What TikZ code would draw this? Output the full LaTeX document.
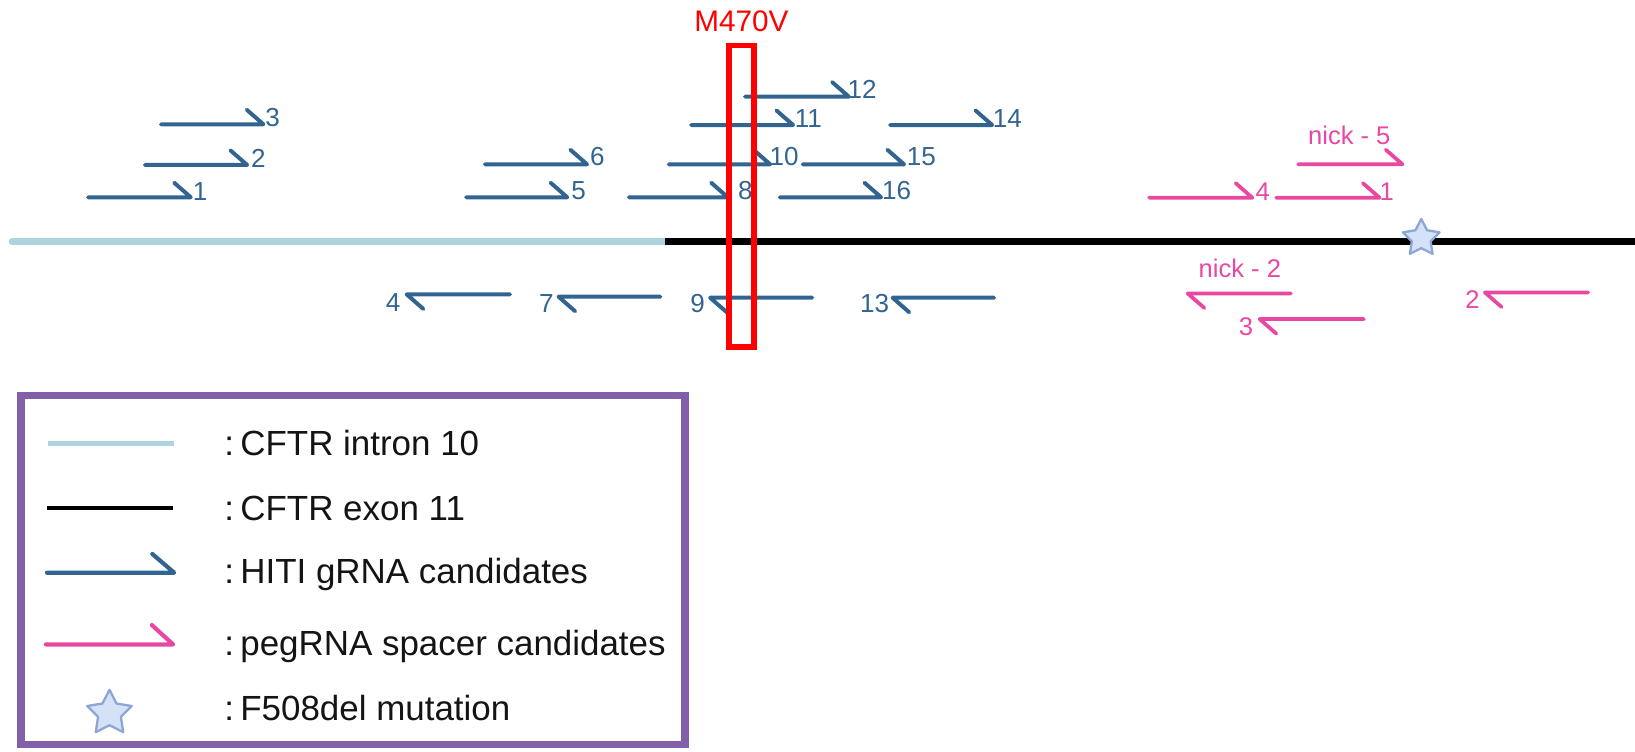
\documentclass[tikz,border=0pt]{standalone}
\usepackage{fontspec}
\setmainfont{Liberation Sans}
\definecolor{hitiblue}{RGB}{50,100,145}
\definecolor{pegpink}{RGB}{232,72,162}
\definecolor{intronblue}{RGB}{173,212,222}
\definecolor{legpurple}{RGB}{130,95,168}
\definecolor{stardraw}{RGB}{141,166,214}
\definecolor{starfill}{RGB}{213,225,247}
\definecolor{legblack}{RGB}{20,20,20}
\newcommand\fwdarrow[4]{\draw[#1] (#2,#4) -- (#3,#4) -- ++(-16,-14);}
\newcommand\revarrow[4]{\draw[#1] (#3,#4) -- (#2,#4) -- ++(16,14);}
\newcommand\starat[4]{\draw[starsty] (#1,#2) +(-90:#3) \foreach \k in {1,...,9}{ -- +({-90+36*\k}:{ifthenelse(isodd(\k),#4,#3)}) } -- cycle;}
\begin{document}
\begin{tikzpicture}[x=1pt,y=-1pt,
  hiti/.style={draw=hitiblue, line width=3.8pt, line cap=round, line join=round},
  peg/.style={draw=pegpink, line width=3.6pt, line cap=round, line join=round},
  blab/.style={text=hitiblue, font=\fontsize{25}{30}\selectfont, inner sep=0pt},
  plab/.style={text=pegpink, font=\fontsize{24.5}{29}\selectfont, inner sep=0pt},
  legtext/.style={anchor=base west, inner sep=0pt, text=legblack, font=\fontsize{33.5}{38}\selectfont},
  starsty/.style={draw=stardraw, fill=starfill, line width=2.2pt, line join=round},
  intronsty/.style={draw=intronblue, line width=6.5pt, line cap=round},
  exonsty/.style={draw=black, line width=6.5pt},
]
\useasboundingbox (0,0) rectangle (1568,721);

% genomic lines
\draw[intronsty] (11.5,231.8) -- (638,231.8);
\draw[exonsty] (638,231.8) -- (1568,231.8);

% HITI forward
\fwdarrow{hiti}{84.4}{183}{189.2}
\fwdarrow{hiti}{139}{237}{158.2}
\fwdarrow{hiti}{154.4}{252.6}{119.2}
\fwdarrow{hiti}{447}{544}{189.2}
\fwdarrow{hiti}{465}{563}{157.6}
\fwdarrow{hiti}{603}{698}{189.2}
\fwdarrow{hiti}{641.4}{738.6}{157.6}
\fwdarrow{hiti}{662.7}{760.6}{119.9}
\fwdarrow{hiti}{714.5}{814}{92.7}
\fwdarrow{hiti}{853.6}{951.5}{119.9}
\fwdarrow{hiti}{769.8}{867}{157.6}
\fwdarrow{hiti}{747.8}{845}{189.2}
% HITI reverse
\revarrow{hiti}{390}{489}{282.3}
\revarrow{hiti}{535.6}{633.3}{284.5}
\revarrow{hiti}{681}{779}{285.5}
\revarrow{hiti}{856}{953.4}{285.5}

% HITI labels
\node[blab] (h1) at (192,183.8) {1};
\node[blab] (h2) at (247.7,151.8) {2};
\node[blab] (h3) at (261.5,112.5) {3};
\node[blab] (h5) at (555,182.9) {5};
\node[blab] (h6) at (572.8,150.3) {6};
\node[blab] (h8) at (714.8,182.9) {8};
\node[blab] (h10) at (752,150.3) {10};
\node[blab] (h11) at (775.3,113.5) {11};
\node[blab] (h12) at (826.7,85.7) {12};
\node[blab] (h14) at (966,113.5) {14};
\node[blab] (h15) at (883.5,150.3) {15};
\node[blab] (h16) at (859.8,182.9) {16};
\node[blab] (h4) at (377,290.6) {4};
\node[blab] (h7) at (524,290.9) {7};
\node[blab] (h9) at (669,290.9) {9};
\node[blab] (h13) at (838.8,290.9) {13};

% pegRNA arrows
\fwdarrow{peg}{1245}{1345}{157.6}
\fwdarrow{peg}{1102}{1201}{189.6}
\fwdarrow{peg}{1224}{1323}{189.6}
\revarrow{peg}{1139}{1238}{281.4}
\revarrow{peg}{1208}{1308}{306}
\revarrow{peg}{1424}{1523}{280.4}
\node[plab] (pn5) at (1294,129.5) {nick - 5};
\node[plab] (p4) at (1211,183.5) {4};
\node[plab] (p1) at (1330,183.5) {1};
\node[plab] (pn2) at (1189,257) {nick - 2};
\node[plab] (p3) at (1195,313) {3};
\node[plab] (p2) at (1412,287.7) {2};

% F508del star
\starat{1363}{228.5}{18.5}{9.5}

% M470V box
\draw[red, line width=5.5pt] (699.3,43.7) rectangle (723.3,333);
\node[text=red, font=\fontsize{28.5}{33}\selectfont, inner sep=0pt] (m470v) at (711,20.8) {M470V};

% legend
\draw[legpurple, line width=7pt] (20,379) rectangle (657,714);
\draw[intronsty, line width=4.8pt, line cap=butt] (46,425) -- (167,425);
\draw[black, line width=4pt] (45,487) -- (166,487);
\draw[hiti, line width=4pt] (45,549.2) -- (167,549.2) -- ++(-21,-18);
\draw[peg, line width=4pt] (44,618) -- (166,618) -- ++(-20.4,-18.6);
\starat{105}{684}{22.5}{11.5}
\node[legtext] (l1) at (215,436.4) {:\hspace{0.18em}CFTR intron 10};
\node[legtext] (l2) at (215,498.7) {:\hspace{0.18em}CFTR exon 11};
\node[legtext] (l3) at (215,559.5) {:\hspace{0.18em}HITI gRNA candidates};
\node[legtext] (l4) at (215,628.2) {:\hspace{0.18em}pegRNA spacer candidates};
\node[legtext] (l5) at (215,690.5) {:\hspace{0.18em}F508del mutation};
\end{tikzpicture}
\end{document}
